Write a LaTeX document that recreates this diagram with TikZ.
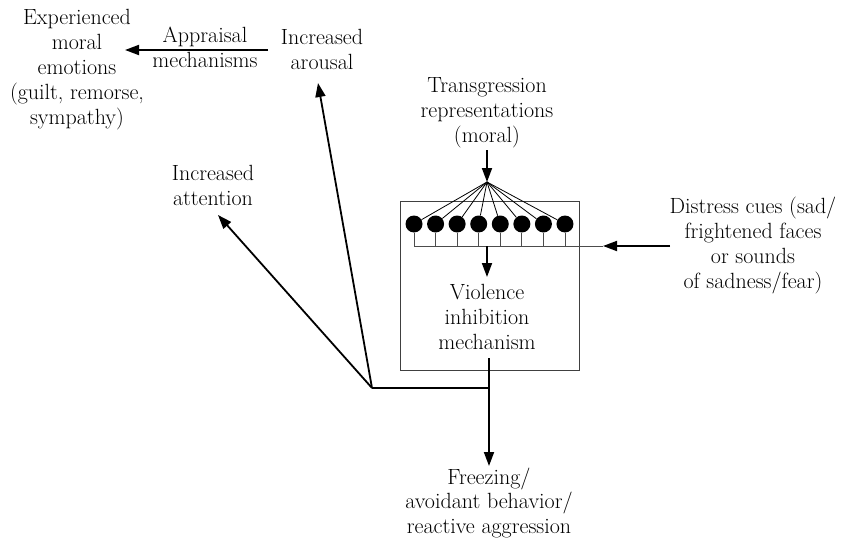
\documentclass[tikz,border=0pt]{standalone}
\usetikzlibrary{arrows.meta}
\begin{document}
\begin{tikzpicture}[x=1pt,y=-1pt,
  lbl/.style={align=center,font=\fontsize{22}{25}\selectfont,inner sep=0pt},
  arr/.style={line width=1.8pt,-{Triangle[length=14pt,width=10pt]}},
  link/.style={line width=1.8pt},
  fine/.style={line width=0.8pt},
  boxline/.style={line width=0.9pt,draw=black!75},
  dot/.style={circle,fill=black,minimum size=17pt,inner sep=0pt}]
\useasboundingbox (0,0) rectangle (841,543);

% text labels
\node[lbl] (emo)   at (77,70)    {Experienced\\moral\\emotions\\(guilt, remorse,\\sympathy)};
\node[lbl] (appr)  at (205,47.5) {Appraisal\\mechanisms};
\node[lbl] (arou)  at (322,49.5) {Increased\\arousal};
\node[lbl] (trans) at (487,113)  {Transgression\\representations\\(moral)};
\node[lbl] (att)   at (213,185.5){Increased\\attention};
\node[lbl] (dist)  at (753,245.5){Distress cues (sad/\\frightened faces\\or sounds\\of sadness/fear)};
\node[lbl] (vim)   at (487,317)  {Violence\\inhibition\\mechanism};
\node[lbl] (frz)   at (489,503)  {Freezing/\\avoidant behavior/\\reactive aggression};

% the mechanism box
\draw[boxline] (400,201) rectangle (579,370);

% representation units
\foreach \i in {0,...,7}
  \node[dot] (c\i) at ({414+\i*21.57},224) {};
\coordinate (fan) at (487,182);
\coordinate (bus) at (414,246);
\coordinate (busend) at (603,246);
\foreach \i in {0,...,7} {
  \draw[fine] (fan) -- (c\i);
  \draw[fine,draw=black!70] (c\i.south) -- (c\i.south |- bus);
}
\draw[fine,draw=black!70] (bus) -- (busend);

% inputs
\coordinate (tin) at (487,150);
\coordinate (din) at (670,246);
\coordinate (vin) at (487,277);
\draw[arr] (tin) -- (fan);
\draw[arr] (din) -- (busend);
\draw[arr] (vim.north |- bus) -- (vin);

% outputs
\coordinate (j) at (372,388);
\coordinate (out) at (489,358);
\coordinate (fin) at (489,466);
\coordinate (tatt) at (218,215);
\coordinate (taro) at (318,83);
\coordinate (as) at (268,50);
\coordinate (ae) at (125,50);
\draw[arr] (out) -- (fin);
\draw[link] (j) -- (j -| out);
\draw[arr] (j) -- (tatt);
\draw[arr] (j) -- (taro);
\draw[arr] (as) -- (ae);
\end{tikzpicture}
\end{document}
